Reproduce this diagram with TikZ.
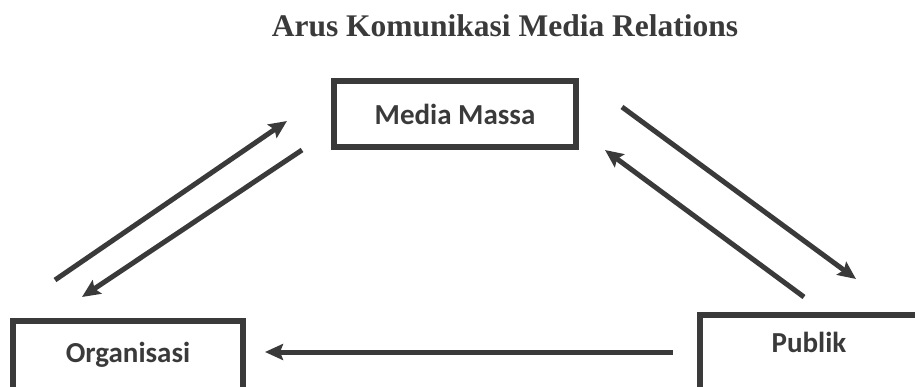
\documentclass[tikz,border=0pt]{standalone}
\usepackage{fontspec}
\setmainfont{Liberation Serif}
\newfontfamily\boxfont{Carlito}
\usetikzlibrary{arrows.meta,positioning}
\definecolor{ink}{RGB}{58,58,58}

\begin{document}
\begin{tikzpicture}[x=1pt, y=-1pt, on grid,
	party/.style={rectangle, draw=ink, line width=5.5pt, minimum height=66pt, text=ink,
		font=\boxfont\bfseries\fontsize{29}{33}\selectfont},
	lowparty/.style={party, minimum height=86pt, text height=20pt},
	flow/.style={-{Stealth[length=18pt, width=16pt, inset=3pt]}, draw=ink, line width=5pt}]
	\useasboundingbox (0,0) rectangle (915,387);

	\node[text=ink, font=\bfseries\fontsize{31.5}{36}\selectfont, anchor=base] (title) at (505,37) {Arus Komunikasi Media Relations};

	\node[party, minimum width=242pt] (media) at (455,114) {Media Massa};
	\node[lowparty, minimum width=230pt, text depth=23pt] (org) [below left=250pt and 327pt of media] {Organisasi};
	\node[lowparty, minimum width=218pt, text depth=31pt] (pub) [below right=244pt and 354pt of media] {Publik};

	% free ends of the arrows
	\coordinate (om_s) at (55,280);  \coordinate (om_e) at (287,121);
	\coordinate (mo_s) at (302,150); \coordinate (mo_e) at (82,297);
	\coordinate (mp_s) at (622,107); \coordinate (mp_e) at (856,279);
	\coordinate (pm_s) at (804,297); \coordinate (pm_e) at (605,150);
	\coordinate (po_s) at (673,352); \coordinate (po_e) at (265,352);

	\path[every edge/.append style={flow}]
		(om_s) edge (om_e)
		(mo_s) edge (mo_e)
		(mp_s) edge (mp_e)
		(pm_s) edge (pm_e)
		(po_s) edge (po_e)
	;
\end{tikzpicture}
\end{document}
